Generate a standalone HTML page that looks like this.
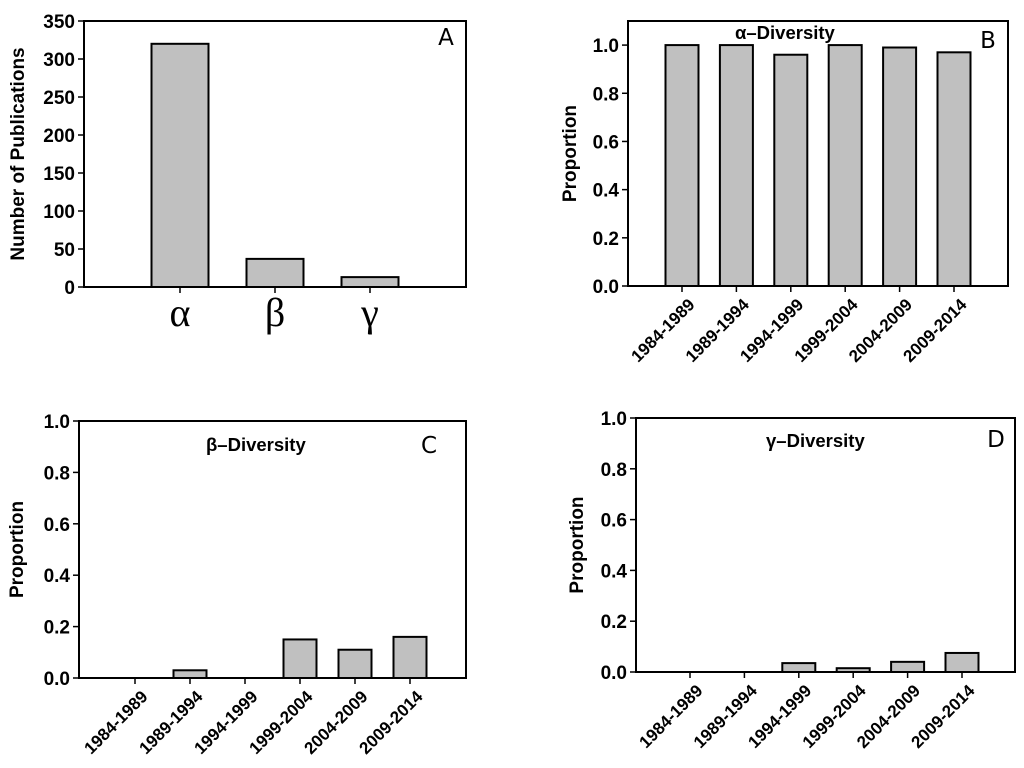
<!DOCTYPE html>
<html><head><meta charset="utf-8"><style>
body{margin:0;background:#fff;width:1024px;height:768px;overflow:hidden}
svg{display:block;font-family:"Liberation Sans",sans-serif}
</style></head><body>
<svg id="fig" width="1024" height="768" xmlns="http://www.w3.org/2000/svg"></svg>
<script>
const catsA = ["α","β","γ"];
const valsA = [320, 37, 13];
const ticksA = [0,50,100,150,200,250,300,350];
const periods = ["1984-1989","1989-1994","1994-1999","1999-2004","2004-2009","2009-2014"];
const valsB = [1.0, 1.0, 0.96, 1.0, 0.99, 0.97];
const valsC = [0, 0.03, 0, 0.15, 0.11, 0.16];
const valsD = [0, 0, 0.035, 0.015, 0.04, 0.075];
const ticksProp = [0,0.2,0.4,0.6,0.8,1.0];

const NS="http://www.w3.org/2000/svg";
const svg=document.getElementById('fig');
function mk(tag,attrs,parent){const e=document.createElementNS(NS,tag);for(const k in attrs)e.setAttribute(k,attrs[k]);(parent||svg).appendChild(e);return e;}

function panel(o){
  const g=mk('g',{});
  
  
  const y=v=>o.y1-(v-0)/(o.ymax)*(o.y1-o.y0);
  const x=i=>o.c0+i*o.step;
  o.vals.forEach((v,i)=>{
    if(v<=0) return;
    const r=mk('rect',{x:x(i)-o.bw/2,y:y(v),width:o.bw,height:o.y1-y(v),fill:'#c0c0c0',stroke:'#000','stroke-width':2},g);
    
    
  });
  const fr=mk('rect',{x:o.x0,y:o.y0,width:o.x1-o.x0,height:o.y1-o.y0,fill:'none',stroke:'#000','stroke-width':2},g);
  
  
  o.ticks.forEach(t=>{
    mk('line',{x1:o.x0-6,x2:o.x0,y1:y(t),y2:y(t),stroke:'#000','stroke-width':1.5},g);
    const tx=mk('text',{x:o.x0-9,y:y(t)+7,'text-anchor':'end','font-size':19,'font-weight':'bold'},g);
    tx.textContent=o.fmt(t);
    
    
  });
  o.cats.forEach((c,i)=>{
    mk('line',{x1:x(i),x2:x(i),y1:o.y1,y2:o.y1+6,stroke:'#000','stroke-width':1.5},g);
    let tx;
    if(o.greek){
      tx=mk('text',{x:x(i),y:o.y1+39,'text-anchor':'middle','font-size':40,'font-family':'"Liberation Serif",serif'},g);
    } else {
      const px=x(i)+5, py=o.y1+11;
      tx=mk('text',{x:px,y:py,'text-anchor':'end','font-size':17,'font-weight':'bold',transform:`rotate(-45 ${px} ${py})`,dy:'0.72em'},g);
    }
    tx.textContent=c;
    
    
  });
  const yt=mk('text',{x:o.ytx,y:(o.y0+o.y1)/2,'text-anchor':'middle','font-size':o.ytsize||19,'font-weight':'bold',transform:`rotate(-90 ${o.ytx} ${(o.y0+o.y1)/2})`},g);
  yt.textContent=o.ytitle;
  
  
  if(o.title){
    const tt=mk('text',{x:o.tx,y:o.ty,'font-size':18.5,'font-weight':'bold'},g);
    tt.textContent=o.title;
    
    
  }
  const lt=mk('text',{x:o.lx,y:o.ly,'text-anchor':'middle','font-size':23,'font-family':'"DejaVu Sans",sans-serif'},g);
  lt.textContent=o.letter;
  
  
}
const f1=t=>t.toFixed(1);
panel({name:'panel-a',x0:84,x1:466,y0:21,y1:287,ymax:350,cats:catsA,vals:valsA,c0:180,step:95,bw:57,ticks:ticksA,fmt:t=>String(t),greek:true,ytitle:'Number of Publications',ytx:24,letter:'A',lx:446,ly:45});
panel({name:'panel-b',x0:628,x1:1008,y0:21,y1:286,ymax:1.1,cats:periods,vals:valsB,c0:682,step:54.4,bw:33,ticks:ticksProp,fmt:f1,ytitle:'Proportion',ytx:576,title:'α–Diversity',tx:735,ty:39,letter:'B',lx:988,ly:48});
panel({name:'panel-c',x0:79,x1:466,y0:421,y1:678,ymax:1.0,cats:periods,vals:valsC,c0:135,step:55,bw:33,ticks:ticksProp,fmt:f1,ytitle:'Proportion',ytx:23,title:'β–Diversity',tx:206,ty:451,letter:'C',lx:429,ly:453});
panel({name:'panel-d',x0:636,x1:1015,y0:418,y1:672,ymax:1.0,cats:periods,vals:valsD,c0:690,step:54.4,bw:33,ticks:ticksProp,fmt:f1,ytitle:'Proportion',ytx:583,title:'γ–Diversity',tx:766,ty:447,letter:'D',lx:996,ly:447});
</script>
</body></html>
